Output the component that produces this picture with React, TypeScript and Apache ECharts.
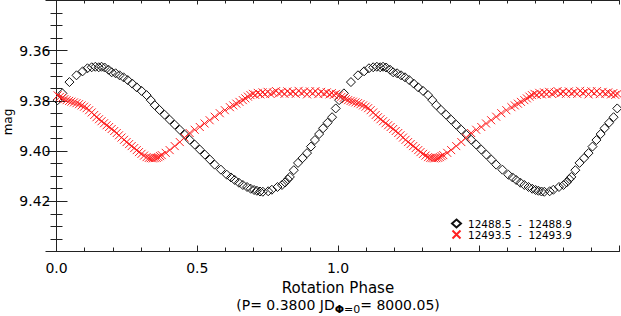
import React, { useEffect, useRef } from "react";
import * as echarts from "echarts";

// Night 1 (black diamonds), one rotation cycle
const blackPhase = [
  0.004, 0.021, 0.046, 0.071, 0.093, 0.110, 0.125, 0.138, 0.150, 0.160,
  0.171, 0.185, 0.196, 0.210, 0.224, 0.238, 0.253, 0.269, 0.285, 0.302,
  0.320, 0.335, 0.349, 0.366, 0.384, 0.402, 0.420, 0.438, 0.456, 0.473,
  0.491, 0.509, 0.527, 0.545, 0.562, 0.584, 0.605, 0.620, 0.633, 0.648,
  0.662, 0.677, 0.690, 0.702, 0.712, 0.723, 0.733, 0.752, 0.765, 0.785,
  0.801, 0.812, 0.822, 0.829, 0.843, 0.858, 0.874, 0.890, 0.904, 0.918,
  0.933, 0.947, 0.963, 0.979, 0.992,
];
const blackMag = [
  9.3797, 9.3770, 9.3725, 9.3698, 9.3682, 9.3670, 9.3666, 9.3664, 9.3666, 9.3664,
  9.3667, 9.3676, 9.3686, 9.3690, 9.3698, 9.3706, 9.3717, 9.3731, 9.3746, 9.3760,
  9.3777, 9.3797, 9.3817, 9.3836, 9.3855, 9.3875, 9.3895, 9.3915, 9.3935, 9.3955,
  9.3974, 9.3994, 9.4014, 9.4034, 9.4054, 9.4074, 9.4094, 9.4105, 9.4115, 9.4126,
  9.4135, 9.4143, 9.4150, 9.4155, 9.4158, 9.4161, 9.4162, 9.4160, 9.4154, 9.4143,
  9.4135, 9.4125, 9.4112, 9.4103, 9.4076, 9.4047, 9.4028, 9.4008, 9.3982, 9.3956,
  9.3932, 9.3909, 9.3887, 9.3865, 9.3830,
];

// Night 2 (red crosses), one rotation cycle
const redPhase = [
  0.004, 0.012, 0.020, 0.028, 0.036, 0.045, 0.053, 0.062, 0.071, 0.080,
  0.089, 0.098, 0.107, 0.116, 0.125, 0.134, 0.142, 0.151, 0.160, 0.169,
  0.178, 0.187, 0.196, 0.205, 0.214, 0.222, 0.231, 0.240, 0.249, 0.258,
  0.267, 0.276, 0.285, 0.293, 0.302, 0.311, 0.320, 0.328, 0.335, 0.342,
  0.349, 0.356, 0.362, 0.368, 0.374, 0.388, 0.402, 0.420, 0.438, 0.455,
  0.473, 0.491, 0.509, 0.526, 0.544, 0.562, 0.580, 0.598, 0.616, 0.628,
  0.639, 0.650, 0.662, 0.671, 0.680, 0.689, 0.698, 0.706, 0.715, 0.724,
  0.732, 0.741, 0.750, 0.760, 0.770, 0.780, 0.790, 0.800, 0.810, 0.820,
  0.830, 0.840, 0.850, 0.860, 0.870, 0.880, 0.890, 0.900, 0.910, 0.920,
  0.930, 0.940, 0.950, 0.960, 0.970, 0.978, 0.985, 0.993,
];
const redMag = [
  9.3778, 9.3784, 9.3788, 9.3793, 9.3797, 9.3800, 9.3803, 9.3806, 9.3809, 9.3813,
  9.3818, 9.3823, 9.3829, 9.3837, 9.3846, 9.3856, 9.3865, 9.3873, 9.3881, 9.3889,
  9.3897, 9.3904, 9.3912, 9.3920, 9.3928, 9.3937, 9.3946, 9.3955, 9.3964, 9.3972,
  9.3980, 9.3988, 9.3996, 9.4004, 9.4011, 9.4018, 9.4024, 9.4027, 9.4028, 9.4029,
  9.4028, 9.4027, 9.4024, 9.4020, 9.4016, 9.4007, 9.3996, 9.3980, 9.3964, 9.3946,
  9.3928, 9.3915, 9.3904, 9.3890, 9.3877, 9.3863, 9.3849, 9.3837, 9.3825, 9.3818,
  9.3811, 9.3804, 9.3797, 9.3790, 9.3783, 9.3777, 9.3772, 9.3776, 9.3768, 9.3774,
  9.3766, 9.3773, 9.3764, 9.3772, 9.3767, 9.3761, 9.3770, 9.3764, 9.3772, 9.3762,
  9.3770, 9.3764, 9.3772, 9.3760, 9.3769, 9.3763, 9.3774, 9.3762, 9.3770, 9.3761,
  9.3773, 9.3764, 9.3771, 9.3766, 9.3774, 9.3769, 9.3776, 9.3772,
];

const cycles = [0, 1];
const xTickLabels = ["0.0", "0.5", "1.0"];
const seriesNames = ["12488.5  -  12488.9", "12493.5  -  12493.9"];
const yTitle = "mag";

const FONT = "DejaVu Sans";
const AXIS = "#222";

function fold(phase: number[], mag: number[]) {
  const out: number[][] = [];
  cycles.forEach((c) => phase.forEach((p, i) => out.push([p + c, mag[i]])));
  return out;
}

export default function App() {
  const ref = useRef<HTMLDivElement>(null);
  useEffect(() => {
    const chart = echarts.init(ref.current!, null, { renderer: "svg" });
    const xCommon = {
      type: "value" as const,
      min: 0,
      max: 2,
      interval: 0.5,
      axisLine: { show: true, lineStyle: { color: AXIS, width: 1 } },
      axisTick: { show: true, inside: true, length: 6, lineStyle: { color: AXIS } },
      minorTick: { show: true, splitNumber: 5, length: 4, lineStyle: { color: AXIS } },
      splitLine: { show: false },
    };
    const yCommon = {
      type: "value" as const,
      min: 9.34,
      max: 9.44,
      interval: 0.02,
      inverse: true,
      axisLine: { show: true, lineStyle: { color: AXIS, width: 1 } },
      axisTick: { show: true, inside: true, length: 11, lineStyle: { color: AXIS } },
      minorTick: { show: true, splitNumber: 4, length: 6, lineStyle: { color: AXIS } },
      splitLine: { show: false },
    };
    chart.setOption({
      animation: false,
      backgroundColor: "#fff",
      textStyle: { fontFamily: FONT },
      grid: { left: 56.5, right: 1.5, top: 0.5, height: 251, outerBoundsMode: "none", containLabel: false },
      legend: {
        orient: "vertical",
        left: 451,
        top: 218,
        itemGap: 0,
        itemWidth: 9,
        itemHeight: 8,
        padding: 0,
        textStyle: { fontFamily: FONT, fontSize: 10.5, color: "#000", lineHeight: 10, padding: [0, 0, 0, 2] },
        data: seriesNames,
      },
      graphic: [
        {
          type: "text",
          x: 8,
          y: 122,
          rotation: Math.PI / 2,
          style: {
            text: yTitle,
            fontFamily: FONT,
            fontSize: 12,
            fill: "#000",
            align: "center",
            verticalAlign: "middle",
          },
        },
      ],
      xAxis: [
        {
          ...xCommon,
          position: "bottom",
          axisLabel: {
            show: true,
            margin: 9,
            fontFamily: FONT,
            fontSize: 14,
            color: "#000",
            formatter: (v: number) => {
              const s = v.toFixed(1);
              return xTickLabels.includes(s) ? s : "";
            },
          },
          name: "{t|Rotation Phase}\n{a|(P= 0.3800 JD}{phi|Φ}{s|=0}{a|= 8000.05)}",
          nameLocation: "middle",
          nameGap: 25,
          nameTextStyle: {
            fontFamily: FONT,
            fontSize: 14,
            color: "#000",
            lineHeight: 17,
            rich: {
              t: { fontFamily: FONT, fontSize: 15, color: "#000", lineHeight: 17 },
              a: { fontFamily: FONT, fontSize: 14, color: "#000", lineHeight: 17 },
              phi: { fontFamily: FONT, fontSize: 11, fontWeight: "bold", color: "#000", lineHeight: 11, padding: [10, 0, 0, 0] },
              s: { fontFamily: FONT, fontSize: 11, color: "#000", lineHeight: 11, padding: [10, 0, 0, 0] },
            },
          },
        },
        {
          ...xCommon,
          position: "top",
          axisTick: { show: true, inside: true, length: 4, lineStyle: { color: AXIS } },
          minorTick: { show: true, splitNumber: 5, length: 3, lineStyle: { color: AXIS } },
          axisLabel: { show: false },
        },
      ],
      yAxis: [
        {
          ...yCommon,
          position: "left",
          axisLabel: {
            show: true,
            margin: 6,
            fontFamily: FONT,
            fontSize: 14,
            color: "#000",
            showMinLabel: false,
            showMaxLabel: false,
            formatter: (v: number) => v.toFixed(2),
          },
        },
        {
          ...yCommon,
          position: "right",
          axisLabel: { show: false },
        },
      ],
      series: [
        {
          name: seriesNames[0],
          type: "scatter",
          xAxisIndex: 0,
          yAxisIndex: 0,
          symbol: "diamond",
          symbolSize: [9, 9],
          itemStyle: { color: "rgba(0,0,0,0)", borderColor: "#111", borderWidth: 1, opacity: 1 },
          data: fold(blackPhase, blackMag),
        },
        {
          name: seriesNames[1],
          type: "scatter",
          xAxisIndex: 0,
          yAxisIndex: 0,
          symbol: "path://M0 0L10 10M10 0L0 10",
          symbolSize: [8, 8],
          itemStyle: { color: "rgba(0,0,0,0)", borderColor: "#ff2020", borderWidth: 1, opacity: 1 },
          data: fold(redPhase, redMag),
        },
      ],
    });
    return () => chart.dispose();
  }, []);
  return <div ref={ref} style={{ position: "absolute", left: 0, top: 0, width: 621, height: 316 }} />;
}
